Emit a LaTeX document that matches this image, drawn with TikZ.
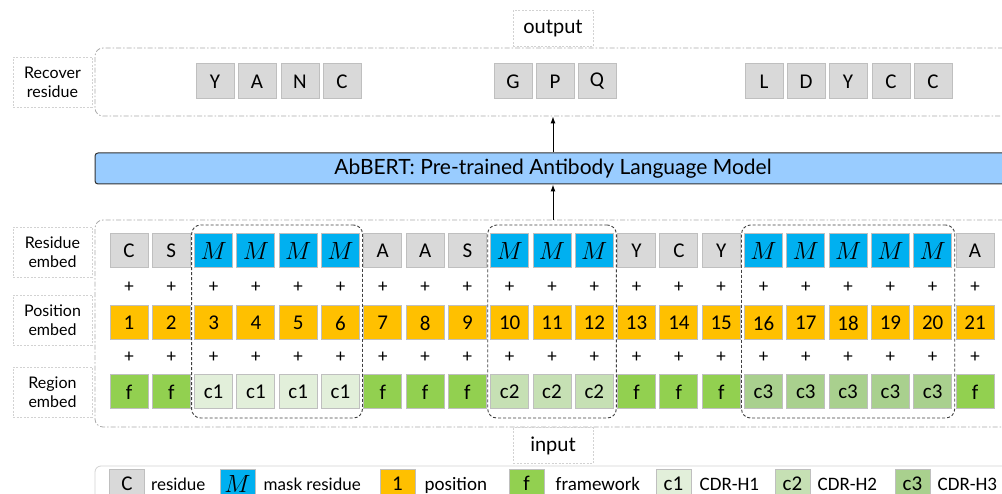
\documentclass[tikz,border=0pt]{standalone}
\usepackage{fontspec}
\setmainfont{Carlito}
\newfontfamily\lblfont{Lato}
\usetikzlibrary{positioning,fit,arrows.meta}
\definecolor{resgray}{RGB}{217,217,217}
\definecolor{cellline}{RGB}{191,191,191}
\definecolor{maskblue}{RGB}{0,176,240}
\definecolor{posorange}{RGB}{255,192,0}
\definecolor{fwgreen}{RGB}{146,208,80}
\definecolor{cdrone}{RGB}{226,239,218}
\definecolor{cdrtwo}{RGB}{198,224,180}
\definecolor{cdrthree}{RGB}{169,208,142}
\definecolor{modelblue}{RGB}{153,204,255}
\definecolor{frameline}{RGB}{170,170,170}
\definecolor{lblline}{RGB}{210,210,210}

\newcommand{\maskM}{{\fontsize{23}{24}\selectfont$M$}}

\tikzset{
  cell/.style={draw=cellline, line width=1pt, minimum width=38pt, minimum height=34pt,
    inner sep=0pt, font=\fontsize{21}{23}\selectfont},
  resbox/.style={cell, fill=resgray},
  maskbox/.style={cell, fill=maskblue},
  posbox/.style={cell, fill=posorange},
  fwbox/.style={cell, fill=fwgreen},
  cdrabox/.style={cell, fill=cdrone},
  cdrbbox/.style={cell, fill=cdrtwo},
  cdrcbox/.style={cell, fill=cdrthree},
  plussign/.style={inner sep=0pt, font=\fontsize{19}{21}\selectfont},
  outframe/.style={draw=frameline, line width=0.8pt, rounded corners=8pt,
    dash pattern=on 5pt off 2pt on 1.5pt off 2pt},
  lblbox/.style={draw=lblline, line width=0.8pt, dash pattern=on 2pt off 1.5pt,
    minimum width=80pt, minimum height=36pt, inner sep=0pt, font=\lblfont\fontsize{20}{22}\selectfont},
  rowlbl/.style={lblbox, minimum width=79pt, minimum height=50pt, align=center,
    font=\lblfont\fontsize{16}{19}\selectfont},
  grpbox/.style={draw=black!75, line width=0.9pt, dash pattern=on 3pt off 2pt,
    rounded corners=9pt, inner xsep=2.5pt, inner ysep=8.5pt},
  legtxt/.style={inner sep=0pt, anchor=base west, font=\fontsize{19}{21}\selectfont},
  legcell/.style={minimum width=35pt, minimum height=29pt},
  arrowline/.style={-{Latex[length=7pt,width=5pt]}, line width=1pt}
}

\begin{document}
\begin{tikzpicture}[x=1pt,y=-1pt]
\useasboundingbox (0,0) rectangle (1002,494);
\clip (0,0) rectangle (1002,494);

% Frames round output, input and legend
\node[outframe, minimum width=916pt, minimum height=68pt] (outbox) at (553,82) {};
\node[outframe, minimum width=916pt, minimum height=207pt] (inbox) at (553,323.5) {};
\node[draw=lblline, line width=0.8pt, rounded corners=6pt,
  minimum width=916pt, minimum height=46pt] (legend) at (553,489) {};

% Labels
\node[lblbox] (outlbl) at (553,28.5) {output};
\node[lblbox] (inlbl) at (553,445.5) {input};
\node[rowlbl] (reclbl) at (52.5,82) {Recover\\residue};
\node[rowlbl] (reslbl) at (52.5,252) {Residue\\embed};
\node[rowlbl] (poslbl) at (52.5,320) {Position\\embed};
\node[rowlbl] (reglbl) at (52.5,392) {Region\\embed};

% Recovered residues
\foreach \x/\t [count=\k] in {215/Y,257/A,300/N,342/C,513/G,555/P,597/Q,764/L,806/D,848/Y,891/C,933/C}
  \node[resbox, minimum height=35pt] (o\k) at (\x,81.5) {\t};

% Language model
\node[draw=black!80, line width=1pt, fill=modelblue, rounded corners=3pt,
  minimum width=916pt, minimum height=31pt, inner sep=0pt,
  font=\lblfont\fontsize{21}{22}\selectfont] (model) at (553,168.5)
  {AbBERT: Pre-trained Antibody Language Model};

\draw[arrowline] (inbox.north) -- (model.south);
\draw[arrowline] (model.north) -- (outbox.south);

% Embedding rows
\foreach \i/\res/\rs/\reg/\gs in {1/C/resbox/f/fwbox, 2/S/resbox/f/fwbox,
  3/\maskM/maskbox/c1/cdrabox, 4/\maskM/maskbox/c1/cdrabox, 5/\maskM/maskbox/c1/cdrabox, 6/\maskM/maskbox/c1/cdrabox,
  7/A/resbox/f/fwbox, 8/A/resbox/f/fwbox, 9/S/resbox/f/fwbox,
  10/\maskM/maskbox/c2/cdrbbox, 11/\maskM/maskbox/c2/cdrbbox, 12/\maskM/maskbox/c2/cdrbbox,
  13/Y/resbox/f/fwbox, 14/C/resbox/f/fwbox, 15/Y/resbox/f/fwbox,
  16/\maskM/maskbox/c3/cdrcbox, 17/\maskM/maskbox/c3/cdrcbox, 18/\maskM/maskbox/c3/cdrcbox,
  19/\maskM/maskbox/c3/cdrcbox, 20/\maskM/maskbox/c3/cdrcbox, 21/A/resbox/f/fwbox} {
  \pgfmathsetmacro\cx{129+(\i-1)*42.3}
  \node[\rs] (r\i) at (\cx,251) {\res};
  \node[plussign] (pa\i) at (\cx,287) {+};
  \node[posbox] (p\i) at (\cx,323) {\i};
  \node[plussign] (pb\i) at (\cx,357) {+};
  \node[\gs] (g\i) at (\cx,392) {\reg};
}

% CDR groups
\node[grpbox, fit=(r3)(g6)] (cdr1) {};
\node[grpbox, fit=(r10)(g12)] (cdr2) {};
\node[grpbox, fit=(r16)(g20)] (cdr3) {};

% Legend
\coordinate (legbase) at (0,490);
\node[resbox, legcell] (lc) at (127,483.5) {C};
\node[legtxt, font=\lblfont\fontsize{17}{19}\selectfont, xshift=6pt] (lctxt) at (lc.east |- legbase) {residue};
\node[maskbox, legcell] (lm) at (237.5,483.5) {\maskM};
\node[legtxt, font=\lblfont\fontsize{17}{19}\selectfont, xshift=8pt] (lmtxt) at (lm.east |- legbase) {mask residue};
\node[posbox, legcell] (lp) at (397.5,483.5) {1};
\node[legtxt, xshift=9pt] (lptxt) at (lp.east |- legbase) {position};
\node[fwbox, legcell] (lf) at (526.5,483.5) {f};
\node[legtxt, xshift=11pt] (lftxt) at (lf.east |- legbase) {framework};
\node[cdrabox, legcell] (la) at (673.5,483.5) {c1};
\node[legtxt, xshift=8pt] (latxt) at (la.east |- legbase) {CDR-H1};
\node[cdrbbox, legcell] (lb) at (792.5,483.5) {c2};
\node[legtxt, xshift=7pt] (lbtxt) at (lb.east |- legbase) {CDR-H2};
\node[cdrcbox, legcell] (lcc) at (912.5,483.5) {c3};
\node[legtxt, xshift=7pt] (lcctxt) at (lcc.east |- legbase) {CDR-H3};
\end{tikzpicture}
\end{document}
